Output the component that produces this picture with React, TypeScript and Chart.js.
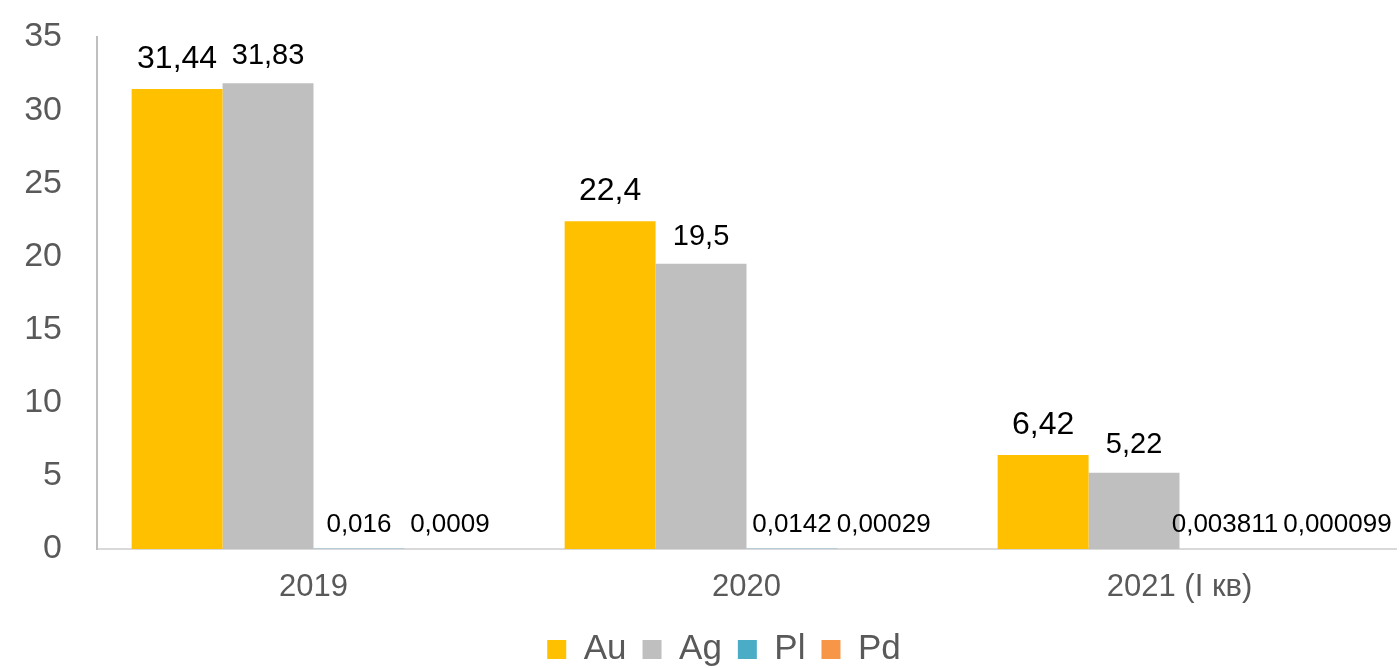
import React, { useEffect, useRef } from "react";
import { Chart, registerables } from "chart.js";

Chart.register(...registerables);

const categories = ["2019", "2020", "2021 (I кв)"];
const seriesNames = ["Au", "Ag", "Pl", "Pd"];
const auValues = [31.44, 22.4, 6.42];
const agValues = [31.83, 19.5, 5.22];
const plValues = [0.016, 0.0142, 0.003811];
const pdValues = [0.0009, 0.00029, 0.000099];
const labelTexts = [
  ["31,44", "22,4", "6,42"],
  ["31,83", "19,5", "5,22"],
  ["0,016", "0,0142", "0,003811"],
  ["0,0009", "0,00029", "0,000099"],
];
const labelFontSizes = [32, 29, 26, 26];
const colors = ["#FFC000", "#BFBFBF", "#4BACC6", "#F79646"];
const FONT = "'Liberation Sans', Arial, sans-serif";
const PLOT_TOP = 37;

const dataLabelPlugin = {
  id: "dataLabels",
  afterDatasetsDraw(chart: any) {
    const ctx = chart.ctx;
    ctx.save();
    ctx.fillStyle = "#000000";
    ctx.textAlign = "center";
    ctx.textBaseline = "alphabetic";
    const n = chart.data.labels.length;
    for (let i = 0; i < n; i++) {
      let prevRight = -Infinity;
      chart.data.datasets.forEach((ds: any, di: number) => {
        const el = chart.getDatasetMeta(di).data[i];
        const txt = labelTexts[di][i];
        const fs = labelFontSizes[di];
        ctx.font = `${fs}px ${FONT}`;
        const w = ctx.measureText(txt).width;
        let x = el.x;
        if (x - w / 2 < prevRight + 5) x = prevRight + 5 + w / 2;
        const maxX = chart.width - 2 - w / 2;
        if (x > maxX) x = maxX;
        ctx.fillText(txt, x, el.y - fs * 0.66);
        prevRight = x + w / 2;
      });
    }
    ctx.restore();
  },
};

const layoutPlugin = {
  id: "layoutTweaks",
  beforeLayout(chart: any) {
    const lg = chart.legend;
    if (lg && !lg.__patched) {
      const orig = lg.fit;
      lg.fit = function () {
        orig.call(this);
        this.height = 52;
      };
      lg.__patched = true;
    }
  },
  afterLayout(chart: any) {
    const lg = chart.legend;
    if (lg) {
      lg.left += 26;
      lg.right += 26;
    }
    const y = chart.scales.y;
    if (y && y.top !== PLOT_TOP) {
      y.top = PLOT_TOP;
      y.height = y.bottom - PLOT_TOP;
      chart.chartArea.top = PLOT_TOP;
      chart.chartArea.height = chart.chartArea.bottom - PLOT_TOP;
      y.configure();
    }
  },
};

export default function App() {
  const ref = useRef<HTMLCanvasElement | null>(null);
  useEffect(() => {
    if (!ref.current) return;
    const values = [auValues, agValues, plValues, pdValues];
    const chart = new Chart(ref.current, {
      type: "bar",
      data: {
        labels: categories,
        datasets: seriesNames.map((n, i) => ({
          label: n,
          data: values[i],
          backgroundColor: colors[i],
          borderWidth: 0,
          categoryPercentage: 0.84,
          barPercentage: 1.0,
        })),
      },
      options: {
        animation: false,
        responsive: false,
        maintainAspectRatio: false,
        layout: { autoPadding: false, padding: { top: 8, right: 4, left: 0, bottom: 0 } },
        plugins: {
          tooltip: { enabled: false },
          legend: {
            position: "bottom",
            labels: {
              font: { family: FONT, size: 35 },
              color: "#595959",
              boxWidth: 19,
              boxHeight: 19,
              padding: 16,
            },
          },
        },
        scales: {
          x: {
            grid: { display: false },
            border: { display: true, color: "#D9D9D9", width: 2 },
            ticks: { font: { family: FONT, size: 31 }, color: "#595959", padding: 12 },
            afterFit: (s: any) => { s.height = 67; },
          },
          y: {
            min: 0,
            max: 35,
            grid: { display: false },
            border: { display: true, color: "#BFBFBF", width: 2 },
            ticks: { stepSize: 5, font: { family: FONT, size: 34 }, color: "#595959", padding: 27 },
            afterFit: (s: any) => { s.width = 97; },
          },
        },
      },
      plugins: [dataLabelPlugin, layoutPlugin],
    });
    return () => chart.destroy();
  }, []);
  return (
    <div style={{ position: "fixed", left: 0, top: 0, width: 1400, height: 668, background: "#fff" }}>
      <canvas ref={ref} width={1400} height={668} style={{ width: 1400, height: 668 }} />
    </div>
  );
}
